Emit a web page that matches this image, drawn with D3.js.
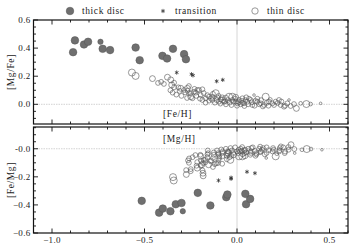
<!DOCTYPE html>
<html>
<head>
<meta charset="utf-8">
<script src="https://cdn.jsdelivr.net/npm/d3@7"></script>
<style>
  body { margin: 0; background: #fff; }
  text { font-family: "Liberation Serif", "DejaVu Serif", serif; font-size: 9px; fill: #222; letter-spacing: 0.3px; }
  text.lab { font-size: 9.5px; letter-spacing: 0.6px; }
</style>
</head>
<body>
<div id="chart"></div>
<script>
// [Fe/H], [Mg/Fe], size class (1..3)
var thickDisc = [
  [-0.876, 0.455, 3], [-0.886, 0.371, 3], [-0.827, 0.426, 3], [-0.805, 0.445, 3],
  [-0.738, 0.445, 2], [-0.726, 0.395, 3], [-0.686, 0.386, 3], [-0.548, 0.404, 3],
  [-0.526, 0.314, 3], [-0.403, 0.345, 3], [-0.378, 0.326, 3], [-0.346, 0.395, 3],
  [-0.286, 0.357, 3], [-0.276, 0.321, 3]
];
var transition = [
  [-0.326, 0.226], [-0.246, 0.214], [-0.238, 0.206], [-0.110, 0.164], [-0.077, 0.174]
];
var thinDisc = [
  [-0.568, 0.226, 3], [-0.548, 0.202, 3], [-0.457, 0.183, 2.5], [-0.427, 0.152, 2],
  [-0.395, 0.145, 2], [-0.376, 0.193, 2.5], [-0.358, 0.174, 2.5], [-0.353, 0.138, 2.5],
  [-0.340, 0.154, 2], [-0.340, 0.121, 2], [-0.348, 0.083, 2], [-0.328, 0.069, 2],
  [-0.317, 0.121, 2], [-0.304, 0.114, 2.5], [-0.286, 0.102, 2], [-0.268, 0.114, 2.5],
  [-0.259, 0.079, 2], [-0.232, 0.090, 2], [-0.214, 0.102, 2], [-0.187, 0.107, 2],
  [-0.250, 0.054, 2.5], [-0.241, 0.043, 2], [-0.169, 0.043, 2], [-0.151, 0.054, 2],
  [-0.133, 0.031, 2], [-0.115, 0.079, 3], [-0.106, 0.050, 2], [-0.097, 0.019, 2],
  [-0.079, 0.031, 2.5], [-0.061, 0.043, 2.5], [-0.043, 0.054, 3], [-0.025, 0.054, 3],
  [-0.007, 0.050, 2.5], [0.011, 0.031, 2], [0.029, 0.043, 2], [0.038, 0.007, 2],
  [0.056, 0.019, 2], [0.074, 0.031, 2], [0.083, -0.005, 2], [0.092, 0.066, 1],
  [0.110, 0.019, 2], [0.128, 0.007, 2], [0.146, -0.005, 2], [0.155, 0.054, 3],
  [0.173, 0.019, 2], [0.191, 0.007, 2], [0.209, 0.019, 2], [0.227, 0.031, 2],
  [0.236, -0.005, 2], [0.254, -0.017, 2], [0.272, 0.007, 2], [0.281, 0.031, 1],
  [0.290, -0.012, 2], [0.308, 0.002, 2], [0.321, -0.029, 2.5], [0.344, 0.007, 1.5],
  [0.375, 0.002, 3], [0.398, 0.002, 1.5], [0.452, 0.007, 1],
  [-0.268, 0.097, 2], [-0.250, 0.079, 2], [-0.223, 0.083, 2], [-0.205, 0.102, 2],
  [-0.196, 0.066, 2], [-0.187, 0.031, 2], [-0.151, 0.026, 2], [-0.133, 0.054, 2],
  [-0.088, 0.036, 2], [-0.070, 0.019, 2], [-0.025, 0.031, 2], [0.002, 0.007, 2],
  [-0.300, 0.060, 2], [-0.280, 0.085, 2], [-0.260, 0.130, 2], [-0.220, 0.060, 2],
  [-0.200, 0.040, 2], [-0.180, 0.080, 2], [-0.170, 0.012, 2], [-0.160, 0.065, 2],
  [-0.140, 0.040, 2], [-0.120, 0.012, 2], [-0.110, 0.030, 2], [-0.100, 0.060, 2],
  [-0.090, 0.005, 2], [-0.080, 0.050, 2], [-0.065, 0.020, 2], [-0.060, 0.000, 2],
  [-0.050, 0.030, 2], [-0.040, 0.012, 2], [-0.030, -0.005, 2], [-0.020, 0.020, 2],
  [-0.010, 0.040, 2], [0.000, -0.010, 2], [0.010, 0.015, 2], [0.020, 0.000, 2],
  [0.025, 0.025, 2], [0.040, -0.012, 2], [0.045, 0.030, 2], [0.060, 0.000, 2],
  [0.065, 0.040, 2], [0.080, 0.015, 2], [0.095, -0.010, 2], [0.100, 0.025, 2],
  [0.120, 0.000, 2], [0.130, 0.030, 2], [0.140, -0.015, 2], [0.160, 0.010, 2],
  [0.170, -0.010, 2], [0.180, 0.035, 1.5], [0.200, -0.005, 2], [0.220, 0.010, 2],
  [0.240, 0.020, 2], [0.260, -0.010, 2], [-0.130, 0.075, 2], [-0.230, 0.110, 2],
  [-0.270, 0.045, 2], [-0.310, 0.095, 2], [-0.360, 0.100, 2], [-0.410, 0.160, 2],
  [0.050, 0.050, 2], [0.110, 0.040, 2], [-0.005, 0.020, 2], [0.030, 0.010, 2]
];

var xTicks = [-1.0, -0.5, 0.0, 0.5];
var topTicks = [0.0, 0.2, 0.4, 0.6];
var botTicks = [-0.6, -0.4, -0.2, 0.0];

var W = 355, H = 245;
var svg = d3.select('#chart').append('svg').attr('width', W).attr('height', H);

var x = d3.scaleLinear().domain([-1.1, 0.6]).range([33.5, 348]);
var yTop = d3.scaleLinear().domain([-0.14, 0.6]).range([124, 20]);
var yBot = d3.scaleLinear().domain([-0.6, 0.155]).range([233, 127]);
var rs = d3.scaleLinear().domain([1, 3]).range([1.3, 3.5]);

function fmt(d) { return d3.format('.1f')(d); }

function panel(y, yt, ylabel, xlabel, xOf, yOf, showX, zeroLbl) {
  var g = svg.append('g');
  var x0 = x.range()[0], x1 = x.range()[1];
  var y0 = y.range()[1], y1 = y.range()[0];

  // zero lines
  g.append('line').attr('x1', x(0)).attr('x2', x(0)).attr('y1', y0).attr('y2', y1)
    .attr('stroke', '#d6d6d6').attr('stroke-width', 1);
  g.append('line').attr('x1', x0).attr('x2', x1).attr('y1', y(0)).attr('y2', y(0))
    .attr('stroke', '#c8c8c8').attr('stroke-width', 0.8).attr('stroke-dasharray', '1.5,1');

  // ticks (inward, all four sides)
  var xMinor = d3.range(-1.1, 0.601, 0.1).map(function(v) { return Math.round(v * 10) / 10; });
  var yMinor = d3.range(-0.6, 0.601, 0.05).map(function(v) { return Math.round(v * 100) / 100; })
    .filter(function(v) { return v >= y.domain()[0] && v <= y.domain()[1]; });
  var tk = g.append('g').attr('stroke', '#111').attr('stroke-width', 0.9);
  xMinor.forEach(function(v) {
    var major = xTicks.indexOf(v) >= 0;
    var L = major ? 4.5 : 2.5;
    tk.append('line').attr('x1', x(v)).attr('x2', x(v)).attr('y1', y1).attr('y2', y1 - L);
    tk.append('line').attr('x1', x(v)).attr('x2', x(v)).attr('y1', y0).attr('y2', y0 + L);
  });
  yMinor.forEach(function(v) {
    var major = yt.indexOf(v) >= 0;
    var L = major ? 4.5 : 2.5;
    tk.append('line').attr('x1', x0).attr('x2', x0 + L).attr('y1', y(v)).attr('y2', y(v));
    tk.append('line').attr('x1', x1).attr('x2', x1 - L).attr('y1', y(v)).attr('y2', y(v));
  });

  // y tick labels
  g.selectAll('.yl').data(yt).enter().append('text')
    .attr('x', x0 - 3).attr('y', function(d) { return y(d) + 3; })
    .attr('text-anchor', 'end')
    .text(function(d) { return d === 0 ? zeroLbl : fmt(d); });

  if (showX) {
    g.selectAll('.xl').data(xTicks).enter().append('text')
      .attr('x', function(d) { return x(d); }).attr('y', y1 + 10)
      .attr('text-anchor', 'middle')
      .text(function(d) { return fmt(d); });
  }

  g.append('text').attr('class', 'lab')
    .attr('transform', 'translate(14,' + ((y0 + y1) / 2) + ') rotate(-90)')
    .attr('text-anchor', 'middle').text(ylabel);
  g.append('text').attr('class', 'lab').attr('x', 163).attr('y', xlabel.y).text(xlabel.t);

  // data
  g.selectAll('.thin').data(thinDisc).enter().append('circle')
    .attr('cx', function(d) { return x(xOf(d)); }).attr('cy', function(d) { return y(yOf(d)); })
    .attr('r', function(d) { return rs(d[2]); })
    .attr('fill', 'none').attr('stroke', '#555').attr('stroke-width', 0.6);
  g.selectAll('.thick').data(thickDisc).enter().append('circle')
    .attr('cx', function(d) { return x(xOf(d)); }).attr('cy', function(d) { return y(yOf(d)); })
    .attr('r', function(d) { return rs(d[2]) + 0.3; })
    .attr('fill', '#6f6f6f').attr('stroke', '#555').attr('stroke-width', 0.5);
  g.selectAll('.tr').data(transition).enter().append('path')
    .attr('transform', function(d) { return 'translate(' + x(xOf(d)) + ',' + y(yOf(d)) + ')'; })
    .attr('d', d3.symbol().type(d3.symbolAsterisk || d3.symbolCross).size(12))
    .attr('fill', 'none').attr('stroke', '#333').attr('stroke-width', 0.8);

  // frame
  g.append('rect').attr('x', x0).attr('y', y0).attr('width', x1 - x0).attr('height', y1 - y0)
    .attr('fill', 'none').attr('stroke', '#111').attr('stroke-width', 1.2);
}

// top: [Mg/Fe] vs [Fe/H]
panel(yTop, topTicks, '[Mg/Fe]', {t: '[Fe/H]', y: 117},
  function(d) { return d[0]; }, function(d) { return d[1]; }, false, '0.0');
// bottom: [Fe/Mg] vs [Mg/H]  ([Mg/H] = [Fe/H] + [Mg/Fe], [Fe/Mg] = -[Mg/Fe])
panel(yBot, botTicks, '[Fe/Mg]', {t: '[Mg/H]', y: 142},
  function(d) { return d[0] + d[1]; }, function(d) { return -d[1]; }, true, '-0.0');

// legend
var lg = svg.append('g');
lg.append('circle').attr('cx', 70).attr('cy', 11).attr('r', 3.8)
  .attr('fill', '#6f6f6f').attr('stroke', '#555').attr('stroke-width', 0.5);
lg.append('text').attr('class', 'lab').attr('x', 82).attr('y', 14).text('thick disc');
lg.append('path').attr('transform', 'translate(163,11)')
  .attr('d', d3.symbol().type(d3.symbolAsterisk || d3.symbolCross).size(12))
  .attr('fill', 'none').attr('stroke', '#333').attr('stroke-width', 0.8);
lg.append('text').attr('class', 'lab').attr('x', 175).attr('y', 14).text('transition');
lg.append('circle').attr('cx', 255).attr('cy', 11).attr('r', 3.2)
  .attr('fill', 'none').attr('stroke', '#555').attr('stroke-width', 0.6);
lg.append('text').attr('class', 'lab').attr('x', 267).attr('y', 14).text('thin disc');
</script>
</body>
</html>
